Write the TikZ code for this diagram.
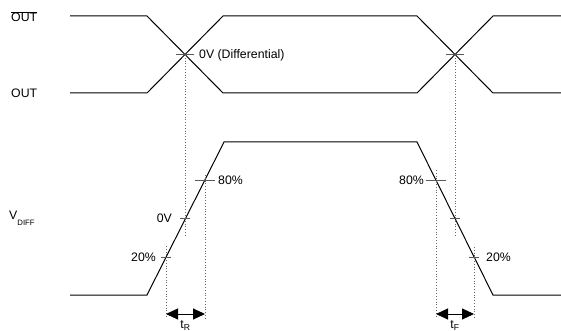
\documentclass[tikz,border=0pt]{standalone}
\usepackage{fontspec}
\setmainfont{Liberation Sans}
\usetikzlibrary{arrows.meta}
\def\hi{16}
\def\lo{93}
\def\dhi{142}
\def\dlo{295}
\def\bot{318}
\newcommand{\lvl}[4][10]{
    \draw[tickline] (#2) ++(-#1/2,0) -- ++(#1,0);
    \node[lbl,#3] (#2-lbl) at (#2) {#4};
}
\newcommand{\guide}[2]{
    \coordinate (#1-top) at (#1 |- 0,#2);
    \coordinate (#1-bot) at (#1 |- 0,\bot);
    \draw[guideline] (#1-top) -- (#1-bot);
}

\begin{document}
\begin{tikzpicture}[x=1pt,y=-1pt,
    wave/.style={line width=1pt, line join=miter},
    tickline/.style={line width=1pt, black!65},
    guideline/.style={dotted, line width=0.8pt, black!60},
    dimarrow/.style={line width=1pt, {Triangle[length=12pt,width=11pt]}-{Triangle[length=12pt,width=11pt]}},
    lbl/.style={inner sep=0pt, font=\fontsize{12.3}{14}\selectfont}]
    \useasboundingbox (0,0) rectangle (561,331);
    % differential pair
    \draw[wave] (70,\hi) -- (147,\hi) -- (223,\lo) -- (417,\lo) -- (493,\hi) -- (561,\hi);
    \draw[wave] (70,\lo) -- (147,\lo) -- (223,\hi) -- (417,\hi) -- (493,\lo) -- (561,\lo);
    \node[lbl,anchor=west] (outn) at (11,16.5) {$\overline{\mbox{OUT}}$};
    \node[lbl,anchor=west] (outp) at (11,93) {OUT};
    % vdiff
    \draw[wave] (70,\dlo) -- (147,\dlo) -- (224,\dhi) -- (417,\dhi) -- (493,\dlo) -- (561,\dlo);
    \node[lbl,anchor=west] (vdiff) at (9,218) {V{\raisebox{-0.9ex}{\fontsize{7.8}{8}\selectfont DIFF}}};
    \coordinate (xa) at (185,55);
    \coordinate (xb) at (455,55);
    \coordinate (r20) at (166,257);
    \coordinate (r0) at (185,218);
    \coordinate (r80) at (205,180);
    \coordinate (f80) at (436,180);
    \coordinate (f0) at (455,218);
    \coordinate (f20) at (474,257);
    \lvl[18]{xa}{right=14pt}{0V (Differential)}
    \lvl[18]{xb}{}{}
    \lvl{r20}{left=10pt}{20\%}
    \lvl{r0}{left=13pt}{0V}
    \lvl[20]{r80}{right=13pt}{80\%}
    \lvl[20]{f80}{left=12pt}{80\%}
    \lvl{f0}{}{}
    \lvl{f20}{right=12pt}{20\%}
    % dotted guides
    \draw[guideline] (xa) -- (r0);
    \coordinate (r0-end) at (185,237);
    \draw[guideline] (r0) -- (r0-end);
    \draw[guideline] (xb) -- (f0);
    \coordinate (f0-end) at (455,237);
    \draw[guideline] (f0) -- (f0-end);
    \guide{r20}{246}
    \guide{r80}{175}
    \guide{f80}{170}
    \guide{f20}{247}
    % rise and fall times
    \draw[dimarrow] ([yshift=4pt]r20-bot) -- ([yshift=4pt]r80-bot)
        node[lbl,midway,below=6pt] (tr) {t\textsubscript{R}};
    \draw[dimarrow] ([yshift=4pt]f80-bot) -- ([yshift=4pt]f20-bot)
        node[lbl,midway,below=6pt] (tf) {t\textsubscript{F}};
\end{tikzpicture}
\end{document}
